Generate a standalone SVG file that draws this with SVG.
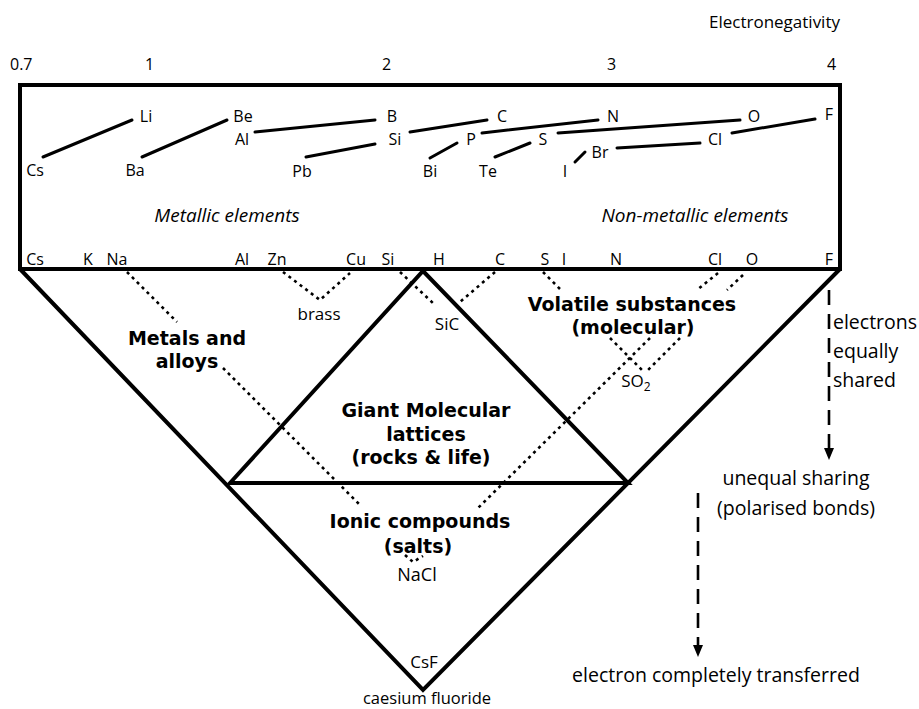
<svg xmlns="http://www.w3.org/2000/svg" width="919" height="709" viewBox="0 0 919 709">
<style>
text{font-family:"Open Sans","Noto Sans","Liberation Sans",sans-serif;fill:#000}
.ax{font-size:16px}
.el{font-size:16px;text-anchor:middle}
.it{font-size:19px;font-style:italic;text-anchor:middle}
.big{font-family:"DejaVu Sans","Liberation Sans",sans-serif;font-size:19px;font-weight:bold;text-anchor:middle}
.sm{font-size:17px;text-anchor:middle}
.side{font-size:19.5px}
.frame{fill:none;stroke:#000;stroke-width:4;stroke-linejoin:miter}
.ln{stroke:#000;stroke-width:3;fill:none;stroke-linecap:round}
.dot{stroke:#000;stroke-width:2.6;fill:none;stroke-dasharray:3 4}
.dash{stroke:#000;stroke-width:2.6;fill:none;stroke-dasharray:15 9}
</style>
<defs>
<marker id="ah" markerWidth="12" markerHeight="10" refX="10" refY="5" orient="auto" markerUnits="userSpaceOnUse" viewBox="0 0 12 10">
<path d="M0,0 L12,5 L0,10 Z" fill="#000"/>
</marker>
</defs>
<rect width="919" height="709" fill="#fff"/>

<g id="axis">
<text x="840" y="28" text-anchor="end" style="font-size:17px">Electronegativity</text>
<text class="ax" x="10" y="70">0.7</text>
<text class="ax" x="145" y="70">1</text>
<text class="ax" x="382" y="70">2</text>
<text class="ax" x="607" y="70">3</text>
<text class="ax" x="827" y="70">4</text>
</g>

<g id="frame">
<rect class="frame" x="20" y="85" width="820" height="184"/>
<path class="frame" d="M20,269 L423,690 L840,269"/>
<path class="frame" d="M230,483 L423,271 L628,483 Z"/>
</g>

<g id="top-elements">
<text class="el" x="146" y="121.5">Li</text>
<text class="el" x="243" y="121.5">Be</text>
<text class="el" x="392" y="121.5">B</text>
<text class="el" x="502" y="121.5">C</text>
<text class="el" x="613" y="121.5">N</text>
<text class="el" x="754" y="121.5">O</text>
<text class="el" x="829" y="120">F</text>
<text class="el" x="242" y="144.5">Al</text>
<text class="el" x="395" y="144.5">Si</text>
<text class="el" x="471" y="144.5">P</text>
<text class="el" x="543" y="144.5">S</text>
<text class="el" x="715" y="144.5">Cl</text>
<text class="el" x="600" y="158">Br</text>
<text class="el" x="35" y="176">Cs</text>
<text class="el" x="135" y="176">Ba</text>
<text class="el" x="302" y="177">Pb</text>
<text class="el" x="430" y="177">Bi</text>
<text class="el" x="488" y="177">Te</text>
<text class="el" x="565" y="177">I</text>
</g>

<g id="groups">
<text class="it" x="227" y="222">Metallic elements</text>
<text class="it" x="695" y="222">Non-metallic elements</text>
</g>

<g id="bottom-elements">
<text class="el" x="35" y="265">Cs</text>
<text class="el" x="88" y="265">K</text>
<text class="el" x="117" y="265">Na</text>
<text class="el" x="242" y="265">Al</text>
<text class="el" x="277" y="265">Zn</text>
<text class="el" x="356" y="265">Cu</text>
<text class="el" x="388" y="265">Si</text>
<text class="el" x="439" y="265">H</text>
<text class="el" x="500" y="265">C</text>
<text class="el" x="545" y="265">S</text>
<text class="el" x="564" y="265">I</text>
<text class="el" x="616" y="265">N</text>
<text class="el" x="715" y="265">Cl</text>
<text class="el" x="752" y="265">O</text>
<text class="el" x="829" y="265">F</text>
</g>

<g id="metals"><text class="big" x="187" y="345">Metals and<tspan x="187" dy="23">alloys</tspan></text></g>
<g id="volatile"><text class="big" x="632" y="311">Volatile substances<tspan x="633" dy="23">(molecular)</tspan></text></g>
<g id="giant"><text class="big" x="426" y="417">Giant Molecular<tspan x="426" dy="23.5">lattices</tspan><tspan x="421" dy="23.5">(rocks &amp; life)</tspan></text></g>
<g id="ionic"><text class="big" x="420" y="528">Ionic compounds<tspan x="418" dy="25">(salts)</tspan></text></g>
<g id="brass"><text class="sm" x="319" y="320">brass</text></g>
<g id="sic"><text class="sm" x="447" y="330">SiC</text></g>
<g id="so2"><text class="sm" x="636" y="387">SO<tspan dy="4" style="font-size:12px">2</tspan></text></g>
<g id="nacl"><text class="sm" x="417" y="581" style="font-size:18px">NaCl</text></g>
<g id="csf"><text class="sm" x="424" y="668">CsF</text></g>
<g id="caesium"><text class="sm" x="427" y="703.5" style="font-size:16.5px">caesium fluoride</text></g>
<g id="shared"><text class="side" x="833" y="329">electrons</text><text class="side" x="833" y="358">equally</text><text class="side" x="833" y="387">shared</text></g>
<g id="unequal"><text class="side" x="796" y="485" text-anchor="middle">unequal sharing</text><text class="side" x="796" y="515" text-anchor="middle">(polarised bonds)</text></g>
<g id="transferred"><text class="side" x="716" y="682" text-anchor="middle">electron completely transferred</text></g>

<g id="connectors">
<path class="ln" d="M43,157 L132,120"/>
<path class="ln" d="M142,157 L227,120"/>
<path class="ln" d="M255,132 L375,120"/>
<path class="ln" d="M306,157 L375,144"/>
<path class="ln" d="M410,132 L487,120"/>
<path class="ln" d="M430,158 L457,143"/>
<path class="ln" d="M482,133 L598,120"/>
<path class="ln" d="M495,157 L530,143"/>
<path class="ln" d="M558,133 L740,120"/>
<path class="ln" d="M575,162 L585,152"/>
<path class="ln" d="M617,148 L700,143"/>
<path class="ln" d="M732,133 L815,119"/>

<path class="dot" d="M127,272 L177,322"/>
<path class="dot" d="M223,368 L360,505"/>
<path class="dot" d="M283,272 L320,300 L350,273"/>
<path class="dot" d="M400,272 L435,305"/>
<path class="dot" d="M495,272 L460,302"/>
<path class="dot" d="M543,272 L560,289"/>
<path class="dot" d="M610,338 L643,371"/>
<path class="dot" d="M718,273 L697,290"/>
<path class="dot" d="M650,338 L478,508"/>
<path class="dot" d="M743,275 L727,290"/>
<path class="dot" d="M680,338 L648,370"/>
<path class="dot" d="M405,555 L413,562 L423,556"/>

<path class="dash" d="M829,290 L829,458" marker-end="url(#ah)"/>
<path class="dash" d="M698,493 L698,655" marker-end="url(#ah)"/>
</g>
</svg>
